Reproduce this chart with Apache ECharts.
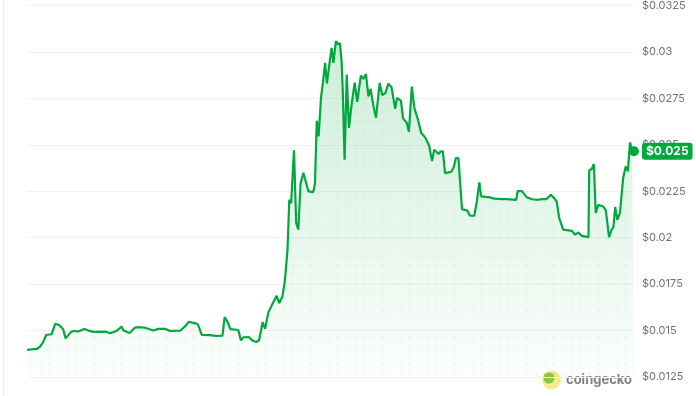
<!DOCTYPE html>
<html>
<head>
<meta charset="utf-8">
<script src="https://cdn.jsdelivr.net/npm/echarts@6/dist/echarts.min.js"></script>
<style>
html,body{margin:0;padding:0;background:#fff;}
#chart{width:696px;height:396px;}
</style>
</head>
<body>
<div id="chart"></div>
<script>
// Hours since start of the 7-day window
var hours = [0,2.7,3.6,4.4,5.3,6.8,7.8,8.9,10.0,10.7,12.2,13.0,14.2,15.8,17.0,18.5,21.9,23.0,24.8,26.2,26.7,28.4,29.9,31.3,32.9,35.0,36.3,38.2,39.6,42.4,43.7,44.8,46.6,47.3,48.4,50.7,52.3,54.1,54.7,55.5,56.3,58.5,59.2,59.9,61.4,62.4,63.4,64.2,64.8,65.2,65.9,66.8,68.0,69.1,69.8,70.7,71.4,72.1,72.6,73.1,73.9,74.5,75.1,75.7,76.5,76.9,77.9,79.2,79.7,80.2,80.7,81.4,81.9,82.5,83.0,83.8,84.3,84.8,85.5,86.0,86.6,87.1,87.4,87.9,88.5,89.1,89.9,90.7,91.4,92.4,93.1,93.8,94.5,95.1,95.9,96.6,97.6,98.3,99.2,100.0,100.9,101.9,102.4,103.5,104.1,105.1,105.7,106.5,107.2,108.2,109.1,110.2,111.3,112.1,112.7,113.9,114.4,115.1,115.7,117.4,118.1,118.7,119.4,120.4,121.8,122.6,123.8,124.5,125.2,125.7,128.2,129.3,131.5,132.0,132.8,135.4,135.8,137.0,138.4,139.8,141.5,142.5,143.8,145.0,145.9,146.6,147.3,147.7,148.4,150.8,151.7,152.6,153.5,155.4,155.6,156.3,156.9,157.4,158.1,159.5,160.2,161.1,161.8,162.3,162.8,163.4,164.1,165.0,165.7,166.3,166.9,167.5,168.0];
// Price in USD
var prices = [0.01396,0.01401,0.01413,0.01435,0.01476,0.01480,0.01536,0.01530,0.01507,0.01458,0.01493,0.01498,0.01495,0.01509,0.01500,0.01493,0.01494,0.01486,0.01498,0.01521,0.01500,0.01487,0.01516,0.01518,0.01514,0.01500,0.01509,0.01509,0.01498,0.01500,0.01522,0.01547,0.01539,0.01533,0.01476,0.01475,0.01471,0.01473,0.01572,0.01547,0.01508,0.01503,0.01447,0.01464,0.01465,0.01446,0.01438,0.01446,0.01503,0.01545,0.01509,0.01598,0.01646,0.01687,0.01647,0.01683,0.01773,0.01935,0.02204,0.02186,0.02471,0.02080,0.02043,0.02290,0.02350,0.02357,0.02249,0.02245,0.02290,0.02630,0.02545,0.02761,0.02833,0.02941,0.02830,0.02950,0.03022,0.02941,0.03058,0.03042,0.03047,0.02941,0.02788,0.02420,0.02878,0.02591,0.02726,0.02835,0.02731,0.02873,0.02855,0.02881,0.02761,0.02801,0.02707,0.02645,0.02833,0.02768,0.02779,0.02830,0.02809,0.02694,0.02753,0.02737,0.02641,0.02619,0.02570,0.02813,0.02699,0.02636,0.02564,0.02540,0.02495,0.02412,0.02474,0.02450,0.02463,0.02465,0.02348,0.02354,0.02379,0.02429,0.02429,0.02153,0.02147,0.02118,0.02118,0.02195,0.02298,0.02222,0.02217,0.02210,0.02208,0.02217,0.02208,0.02204,0.02251,0.02251,0.02216,0.02207,0.02204,0.02208,0.02208,0.02231,0.02213,0.02195,0.02106,0.02100,0.02043,0.02037,0.02016,0.02028,0.02010,0.02003,0.02362,0.02370,0.02397,0.02133,0.02177,0.02168,0.02147,0.02003,0.02043,0.02057,0.02165,0.02096,0.02133,0.02321,0.02384,0.02357,0.02513,0.02465,0.02465];
// Y axis ticks
var yMin = 0.0125, yMax = 0.0325, yStep = 0.0025;
var lastLabel = '$0.025';

var GREEN = '#00a83e';
var seriesData = hours.map(function (h, i) { return [h, prices[i]]; });
var last = seriesData[seriesData.length - 1];

// dotted pattern
var pat = document.createElement('canvas');
pat.width = 9; pat.height = 9;
var pc = pat.getContext('2d');
pc.fillStyle = 'rgba(0,140,60,0.07)';
pc.beginPath(); pc.arc(4.5, 4.5, 1.4, 0, Math.PI * 2); pc.fill();

var chart = echarts.init(document.getElementById('chart'), null, {renderer: 'canvas'});
chart.setOption({
  animation: false,
  backgroundColor: '#fff',
  grid: {left: 27, right: 62, top: 5.5, bottom: 19},
  xAxis: {type: 'value', min: 0, max: 168, show: false},
  yAxis: {
    type: 'value', position: 'right', min: yMin, max: yMax, interval: yStep,
    axisLine: {show: false}, axisTick: {show: false},
    splitLine: {lineStyle: {color: '#f0f1f3', width: 1}},
    axisLabel: {
      margin: 8, color: '#6b7280', fontSize: 11, fontFamily: 'Inter, Roboto, sans-serif',
      formatter: function (v) { return '$' + (+v.toFixed(4)); }
    }
  },
  series: [
    {
      type: 'line', data: seriesData, showSymbol: false, smooth: false, z: 3,
      lineStyle: {color: GREEN, width: 2.2},
      areaStyle: {
        color: new echarts.graphic.LinearGradient(0, 0, 0, 1, [
          {offset: 0, color: 'rgba(0,168,62,0.28)'},
          {offset: 1, color: 'rgba(0,168,62,0.02)'}
        ])
      }
    },
    {
      type: 'line', data: seriesData, showSymbol: false, silent: true, z: 2,
      lineStyle: {width: 0, opacity: 0},
      areaStyle: {color: {image: pat, repeat: 'repeat'}}
    },
    {
      type: 'scatter', data: [last], symbolSize: 10, z: 5,
      itemStyle: {color: GREEN, opacity: 1},
      label: {
        show: true, position: 'right', distance: 3,
        formatter: lastLabel,
        backgroundColor: GREEN, color: '#fff', fontWeight: 'bold', fontSize: 12,
        fontFamily: 'Inter, Roboto, sans-serif',
        padding: [3, 4, 2, 4], borderRadius: 3
      }
    }
  ],
  graphic: [
    {type: 'line', shape: {x1: 3.5, y1: 0, x2: 3.5, y2: 396}, style: {stroke: '#ececec', lineWidth: 1}},
    {type: 'circle', shape: {cx: 551.5, cy: 380, r: 9.5}, style: {fill: '#f6ea8f'}},
    {type: 'circle', shape: {cx: 549, cy: 378, r: 5.5}, style: {fill: '#8cc63f'}},
    {type: 'text', x: 566, y: 380, style: {text: 'coingecko', fill: '#808080', font: 'bold 13px Inter, Roboto, sans-serif', textVerticalAlign: 'middle'}}
  ]
});
</script>
</body>
</html>
